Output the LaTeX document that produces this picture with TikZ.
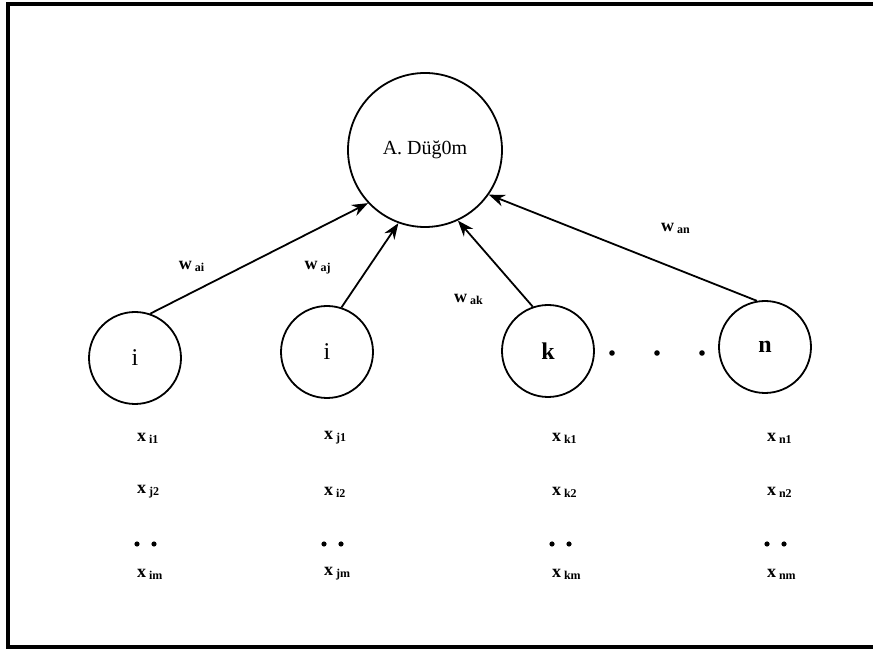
\documentclass[tikz,border=0pt]{standalone}
\usepackage{fontspec}
\setmainfont{Liberation Serif}
\usetikzlibrary{arrows.meta}

\newcommand{\idx}[2]{#1\,\textsubscript{#2}}

\begin{document}
\begin{tikzpicture}[x=0.5pt, y=-0.5pt,
    neuron/.style={draw, circle, line width=0.9pt, inner sep=0pt},
    link/.style={line width=0.9pt, -{Stealth[length=8pt, width=6pt]}},
    wlabel/.style={font=\bfseries\small},
    xlabel/.style={font=\bfseries\small, anchor=west}]

  \useasboundingbox (0,0) rectangle (873,651);

  % Frame
  \draw[line width=2pt] (873,4) -- (8,4) -- (8,647) -- (873,647);

  % Output node
  \node[neuron, minimum size=77pt] (A) at (425,150) {A. Düğ0m};

  % Input nodes
  \node[neuron, minimum size=46pt, font=\large] (ni) at (135,358) {i};
  \node[neuron, minimum size=46pt, font=\large] (nj) at (327,352) {i};
  \node[neuron, minimum size=46pt, font=\large\bfseries] (nk) at (548,351) {k};
  \node[neuron, minimum size=46pt, font=\large\bfseries] (nn) at (765,347) {n};

  \foreach \x in {612, 657, 702}
    \fill (\x,353) circle (1.4pt);

  % Weighted links
  \draw[link] (ni.71) -- (A.223);
  \draw[link] (nj.72) -- (A.250);
  \draw[link] (nk.109) -- (A.295);
  \draw[link] (nn.100) -- (A.325);

  \node[wlabel] (wai) at (192,266) {\idx{w}{ai}};
  \node[wlabel] (waj) at (318,268) {\idx{w}{aj}};
  \node[wlabel] (wak) at (469,299) {\idx{w}{ak}};
  \node[wlabel] (wan) at (676,228) {\idx{w}{an}};

  % Inputs of each node
  \foreach \cx/\a/\b/\c in {130/i1/j2/im, 317/j1/i2/jm, 545/k1/k2/km, 760/n1/n2/nm} {
    \node[xlabel] (x\a) at (\cx,438) {\idx{x}{\a}};
    \node[xlabel] (x\b) at (\cx,492) {\idx{x}{\b}};
    \fill (\cx+7,544) circle (1.3pt);
    \fill (\cx+24,544) circle (1.3pt);
    \node[xlabel] (x\c) at (\cx,574) {\idx{x}{\c}};
  }

\end{tikzpicture}
\end{document}
